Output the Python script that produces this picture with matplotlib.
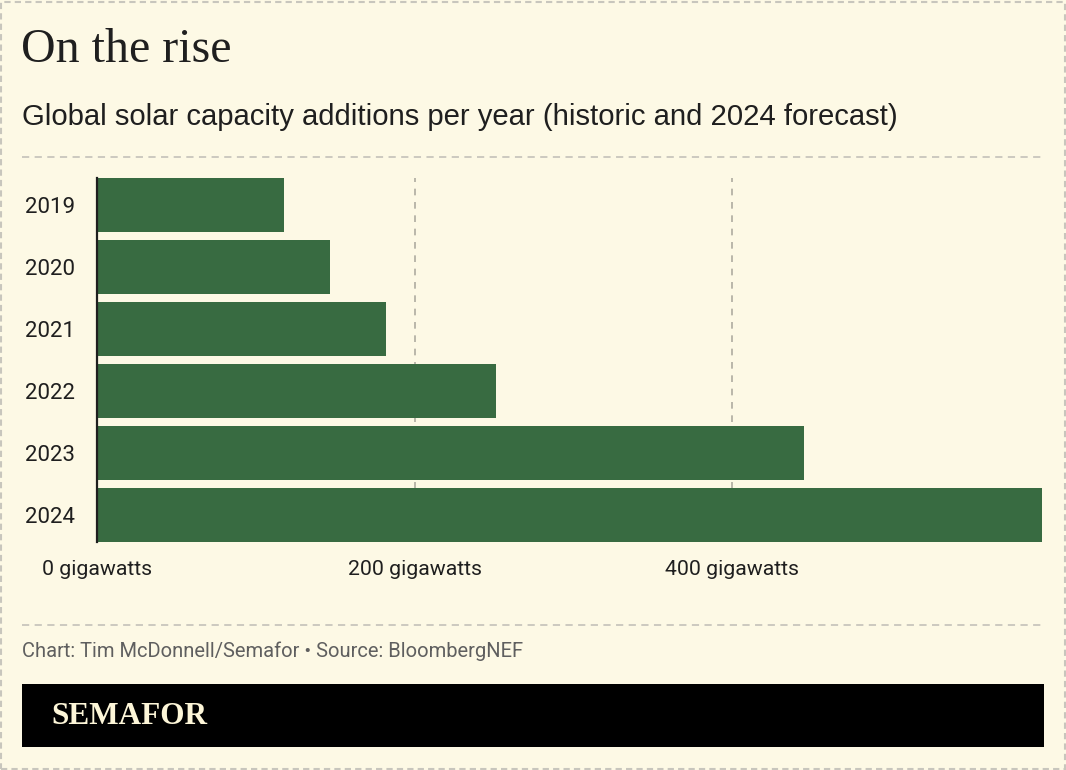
import matplotlib
matplotlib.use("Agg")
import matplotlib.pyplot as plt
from matplotlib.patches import Rectangle
from matplotlib.lines import Line2D

years = ["2019", "2020", "2021", "2022", "2023", "2024"]
capacity_gw = [118, 147, 182, 251, 445, 595]
tick_values = [0, 200, 400]
tick_labels = ["0 gigawatts", "200 gigawatts", "400 gigawatts"]

BG = "#fdf9e5"
BAR = "#386b41"
TXT = "#1f1f1f"
GRID = "#aeaba0"

W, H = 1066, 770
fig = plt.figure(figsize=(W / 100, H / 100), dpi=100, facecolor=BG)

def fx(px):
    return px / W

def fy(py):
    return 1 - py / H

# outer dashed border
fig.add_artist(Rectangle((fx(1), fy(769)), fx(1064), (768 - 1) / H,
                         transform=fig.transFigure, fill=False, edgecolor="#c8c6bd",
                         linewidth=1.5, linestyle=(0, (3, 2))))

fig.text(fx(21), fy(50), "On the rise", family="Liberation Serif", fontsize=34.5,
         color=TXT, va="center", ha="left")
fig.text(fx(22), fy(117), "Global solar capacity additions per year (historic and 2024 forecast)",
         family="Liberation Sans", fontsize=21.1, color=TXT, va="center", ha="left")

for yy in (157, 625):
    fig.add_artist(Line2D([fx(22), fx(1044)], [fy(yy), fy(yy)], transform=fig.transFigure,
                          color="#c8c6bd", linewidth=1.3, linestyle=(0, (4, 3))))

ax = fig.add_axes([fx(97), fy(542), fx(1042) - fx(97), fy(178) - fy(542)])
ax.set_facecolor("none")
pos = list(range(len(years)))
bh = 0.865
ax.barh(pos, capacity_gw, height=bh, color=BAR, zorder=2)
ax.set_ylim(len(years) - 1 + bh / 2, -bh / 2)
ax.set_xlim(0, max(capacity_gw))
for v in tick_values[1:]:
    ax.axvline(v, color=GRID, linewidth=1.2, linestyle=(0, (4, 4)), zorder=1)
for s in ("top", "right", "bottom"):
    ax.spines[s].set_visible(False)
ax.spines["left"].set_color(TXT)
ax.spines["left"].set_linewidth(1.6)
ax.spines["left"].set_zorder(3)
ax.set_yticks(pos)
ax.set_yticklabels(years, family="Roboto", fontsize=16, color=TXT)
ax.set_xticks(tick_values)
ax.set_xticklabels(tick_labels, family="Roboto", fontsize=15.3, color=TXT)
ax.tick_params(axis="y", length=0, pad=16)
ax.tick_params(axis="x", length=0, pad=13.3)

fig.text(fx(22), fy(651), "Chart: Tim McDonnell/Semafor • Source: BloombergNEF",
         family="Roboto", fontsize=14.5, color="#5f5f5f", va="center", ha="left")

fig.add_artist(Rectangle((fx(22), fy(747)), fx(1044) - fx(22), (747 - 684) / H,
                         transform=fig.transFigure, facecolor="black", edgecolor="none"))
fig.text(fx(51), fy(716), "SEMAFOR", family="Liberation Serif", fontweight="bold",
         fontsize=22.5, color="#fdf6d8", va="center", ha="left")

fig.savefig("out.png", dpi=100, facecolor=BG)
